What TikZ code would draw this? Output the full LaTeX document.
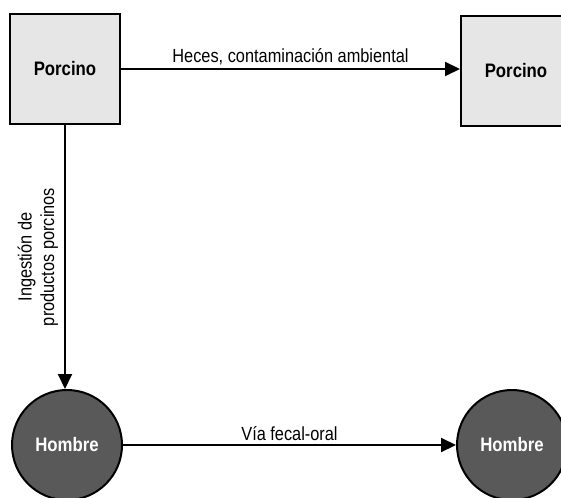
\documentclass[tikz,border=0pt]{standalone}
\usepackage{fontspec}
\setmainfont{Liberation Sans}
\newfontfamily\narrowsans[FakeStretch=0.86]{Liberation Sans}
\usepackage{tikz}
\usetikzlibrary{arrows.meta}
\usetikzlibrary{positioning}
\definecolor{boxgray}{HTML}{E6E6E6}
\definecolor{circgray}{HTML}{595959}
\tikzset{
    >={Triangle[length=15pt,width=14pt]},
    animal/.style={draw=black, line width=2pt, fill=boxgray, minimum size=110pt,
        inner sep=0pt, font=\narrowsans\fontsize{19.5}{22}\selectfont\bfseries},
    human/.style={circle, draw=black, line width=2pt, fill=circgray, minimum size=110pt,
        inner sep=0pt, text=white, font=\narrowsans\fontsize{19.5}{22}\selectfont\bfseries},
    route/.style={->, line width=2pt},
    routelabel/.style={font=\narrowsans\fontsize{19}{22.5}\selectfont, inner sep=2pt},
}

\begin{document}
\begin{tikzpicture}[x=1pt, y=-1pt]
\useasboundingbox (0,0) rectangle (561,497);
\clip (0,0) rectangle (561,497);
% animal side
\node[animal] (pig1) at (65,69) {Porcino};
\node[animal] (pig2) at (516,71) {Porcino};
% human side
\node[human] (man1) at (67,445) {Hombre};
\node[human] (man2) at (512,445) {Hombre};
% routes
\draw[route] (pig1) -- node[routelabel, above=1pt] {Heces, contaminación ambiental} (pig1 -| pig2.west);
\draw[route] (pig1.south) -- node[routelabel, above, rotate=90, align=center, yshift=4pt]
    {Ingestión de\\productos porcinos} (pig1.south |- man1.north);
\draw[route] (man1) -- node[routelabel, above=1pt] {Vía fecal-oral} (man2);
\end{tikzpicture}
\end{document}
